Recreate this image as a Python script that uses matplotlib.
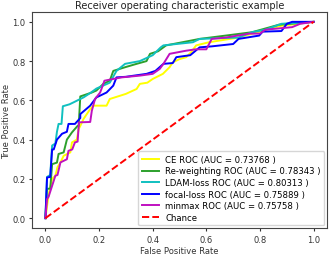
import matplotlib
matplotlib.use("Agg")
import matplotlib.pyplot as plt

ce_fpr = [0, 0.012, 0.025, 0.037, 0.045, 0.056, 0.068, 0.093, 0.099, 0.117, 0.124, 0.13, 0.142, 0.167, 0.179, 0.228, 0.24, 0.30, 0.34, 0.352, 0.38, 0.40, 0.438, 0.463, 0.475, 0.5, 0.525, 0.543, 0.562, 0.61, 0.72, 0.80, 0.85, 0.88, 1.0]
ce_tpr = [0, 0.12, 0.2, 0.216, 0.26, 0.284, 0.318, 0.335, 0.386, 0.40, 0.454, 0.47, 0.505, 0.556, 0.573, 0.573, 0.607, 0.633, 0.658, 0.684, 0.69, 0.709, 0.735, 0.769, 0.794, 0.81, 0.82, 0.845, 0.88, 0.896, 0.92, 0.95, 0.97, 0.98, 1.0]

rw_fpr = [0, 0.006, 0.018, 0.025, 0.043, 0.049, 0.068, 0.08, 0.099, 0.12, 0.124, 0.13, 0.173, 0.19, 0.216, 0.24, 0.253, 0.30, 0.34, 0.377, 0.39, 0.42, 0.45, 0.575, 0.77, 0.87, 1.0]
rw_tpr = [0, 0.15, 0.15, 0.275, 0.283, 0.327, 0.335, 0.40, 0.437, 0.47, 0.47, 0.62, 0.64, 0.65, 0.684, 0.70, 0.75, 0.77, 0.786, 0.80, 0.837, 0.85, 0.88, 0.913, 0.947, 0.985, 1.0]

ldam_fpr = [0, 0.006, 0.018, 0.025, 0.037, 0.043, 0.049, 0.06, 0.065, 0.09, 0.105, 0.142, 0.17, 0.19, 0.24, 0.265, 0.297, 0.352, 0.40, 0.43, 0.44, 0.55, 0.575, 0.72, 0.77, 0.82, 0.88, 1.0]
ldam_tpr = [0, 0.21, 0.22, 0.37, 0.38, 0.44, 0.48, 0.48, 0.57, 0.58, 0.59, 0.615, 0.64, 0.66, 0.69, 0.75, 0.786, 0.80, 0.83, 0.87, 0.88, 0.896, 0.913, 0.92, 0.947, 0.96, 0.99, 1.0]

focal_fpr = [0, 0.006, 0.018, 0.025, 0.031, 0.043, 0.062, 0.08, 0.086, 0.11, 0.13, 0.13, 0.167, 0.19, 0.228, 0.253, 0.265, 0.30, 0.377, 0.41, 0.44, 0.475, 0.488, 0.54, 0.575, 0.62, 0.70, 0.72, 0.797, 0.81, 0.88, 0.9, 0.92, 1.0]
focal_tpr = [0, 0.207, 0.21, 0.35, 0.35, 0.40, 0.43, 0.44, 0.48, 0.48, 0.51, 0.53, 0.573, 0.615, 0.64, 0.675, 0.717, 0.72, 0.735, 0.75, 0.786, 0.79, 0.82, 0.83, 0.87, 0.875, 0.887, 0.913, 0.93, 0.95, 0.953, 0.99, 1.0, 1.0]

mm_fpr = [0, 0.006, 0.012, 0.025, 0.037, 0.045, 0.056, 0.08, 0.086, 0.10, 0.11, 0.12, 0.125, 0.167, 0.173, 0.185, 0.204, 0.216, 0.22, 0.253, 0.284, 0.352, 0.40, 0.426, 0.44, 0.463, 0.525, 0.56, 0.6, 0.62, 0.673, 0.76, 0.80, 0.82, 0.92, 0.95, 1.0]
mm_tpr = [0, 0.097, 0.11, 0.165, 0.216, 0.22, 0.284, 0.30, 0.343, 0.35, 0.386, 0.39, 0.488, 0.49, 0.547, 0.607, 0.64, 0.684, 0.70, 0.709, 0.717, 0.726, 0.735, 0.76, 0.786, 0.837, 0.853, 0.86, 0.86, 0.913, 0.92, 0.94, 0.94, 0.96, 0.973, 0.99, 1.0]

chance = [0, 1]

labels = ["CE ROC (AUC = 0.73768 )", "Re-weighting ROC (AUC = 0.78343 )",
          "LDAM-loss ROC (AUC = 0.80313 )", "focal-loss ROC (AUC = 0.75889 )",
          "minmax ROC (AUC = 0.75758 )"]
colors = ["yellow", "#2ca02c", "#10c0c0", "blue", "#c010c0"]

fig = plt.figure(figsize=(3.3, 2.55), dpi=100)
ax = fig.add_axes([0.097, 0.102, 0.894, 0.847])
series = [(ce_fpr, ce_tpr), (rw_fpr, rw_tpr), (ldam_fpr, ldam_tpr),
          (focal_fpr, focal_tpr), (mm_fpr, mm_tpr)]
for (f, t), lab, c in zip(series, labels, colors):
    ax.plot(f, t, color=c, lw=1.4, label=lab)
ax.plot(chance, chance, "r--", lw=1.4, label="Chance")
ax.set_xlim(-0.05, 1.05)
ax.set_ylim(-0.05, 1.05)
ax.set_xticks([0, 0.2, 0.4, 0.6, 0.8, 1.0])
ax.set_yticks([0, 0.2, 0.4, 0.6, 0.8, 1.0])
for s in ax.spines.values():
    s.set_color("#444444")
ax.tick_params(labelsize=6, length=2.5, pad=2.2, colors="#333333")
ax.set_xlabel("False Positive Rate", fontsize=6, labelpad=2, color="#333333")
ax.set_ylabel("True Positive Rate", fontsize=6, labelpad=1.2, color="#333333")
ax.set_title("Receiver operating characteristic example", fontsize=7.1, pad=3, color="#222222")
ax.legend(loc="lower right", fontsize=6.1, handlelength=2.0, borderpad=0.45,
          labelspacing=0.3, borderaxespad=0.3, handletextpad=0.7)
fig.savefig("out.png", dpi=100)
